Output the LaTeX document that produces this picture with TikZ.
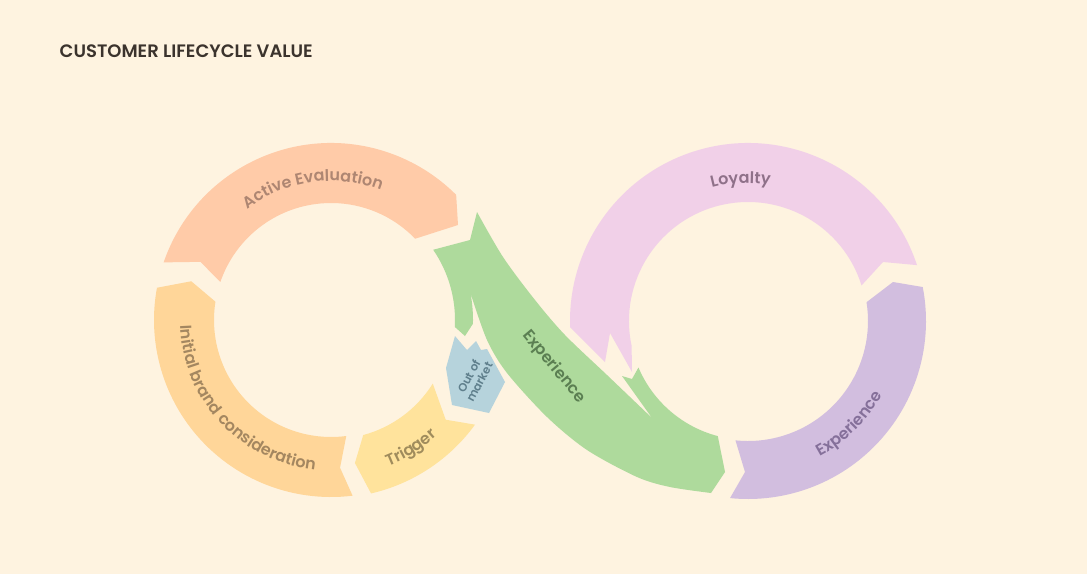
\documentclass[tikz,border=0pt]{standalone}
\usepackage{fontspec}
\setmainfont{Poppins}
\newfontfamily\sbf{Poppins SemiBold}
\usetikzlibrary{calc,decorations.text}
\definecolor{bg}{HTML}{FEF3E0}
\definecolor{peach}{HTML}{FFCBA8}
\definecolor{orng}{HTML}{FFD699}
\definecolor{trig}{HTML}{FFE39C}
\definecolor{blu}{HTML}{B6D3DC}
\definecolor{grn}{HTML}{AEDA9C}
\definecolor{pnk}{HTML}{F1D0E8}
\definecolor{purp}{HTML}{D2BEDF}
\definecolor{tpeach}{HTML}{AE8672}
\definecolor{torng}{HTML}{A48760}
\definecolor{ttrig}{HTML}{A08C5C}
\definecolor{tblu}{HTML}{5F7F8C}
\definecolor{tgrn}{HTML}{5B7F52}
\definecolor{tpnk}{HTML}{8F7189}
\definecolor{tpurp}{HTML}{85709A}
\definecolor{ttitle}{HTML}{3B332D}
\tikzset{
  lbl/.style={font=\fontsize{16}{16}\selectfont\sbf},
  arctext/.style={decorate, decoration={text along path, text align=center, text={#1}}}
}
\begin{document}
\begin{tikzpicture}[x=1pt,y=-1pt]
\useasboundingbox (0,0) rectangle (1087,574);
\fill[bg] (0,0) rectangle (1087,574);
\coordinate (L) at (331,320);
\coordinate (R) at (748,321);

\node[anchor=west, text=ttitle, font=\fontsize{18}{18}\selectfont\sbf, inner sep=0pt] (title) at (59.5,51.5) {CUSTOMER LIFECYCLE VALUE};

% Active Evaluation
\fill[peach] ($(L)+(199:177)$) arc[start angle=199,end angle=315,radius=177]
  -- (458,225) -- ($(L)+(316:117)$) arc[start angle=316,end angle=199,radius=117]
  -- ($(L)+(204:143)$) -- cycle;
% Initial brand consideration
\fill[orng] ($(L)+(83:177)$) arc[start angle=83,end angle=190.5,radius=177]
  -- ($(L)+(195.5:145)$) -- ($(L)+(189:117)$) arc[start angle=189,end angle=82.5,radius=117]
  -- ($(L)+(86.5:148)$) -- cycle;
% Trigger
\fill[trig] ($(L)+(77:178)$) arc[start angle=77,end angle=36,radius=178]
  -- ($(L)+(41:152)$) -- ($(L)+(32:120)$) arc[start angle=32,end angle=75,radius=118]
  -- ($(L)+(80.5:145)$) -- cycle;
% Out of market
\fill[blu] (455,336) -- (467,350) -- (476,341) -- (481,350) -- (487,349) -- (505,382)
  -- (489,413) -- (452,405) -- (446,368) -- cycle;
% Green experience band
\fill[grn] plot[smooth,tension=0.5] coordinates {(477,212) (503,257) (535,300) (565,335) (607,375) (652,418)}
  -- (622,376) -- (632,379) -- ($(R)+(157:119)$) arc[start angle=157,end angle=104.7,radius=119]
  -- (725,472) -- (711,493)
  -- plot[smooth,tension=0.5] coordinates {(711,493) (670,487) (637,477) (587,450) (547,417) (507,373) (487,340) (470.4,292.9)}
  arc[start angle=-11,end angle=1.5,radius=142]
  -- (465,336) -- ($(L)+(3.2:124)$) arc[start angle=3.2,end angle=-34.5,radius=124]
  -- (470,240) -- cycle;
% Loyalty
\fill[pnk] ($(R)+(-18.3:178)$) arc[start angle=-18.3,end angle=-182,radius=178]
  -- (605,362) -- (610,333) -- (632,372) -- ($(R)+(168:119)$) arc[start angle=168,end angle=342.6,radius=119]
  -- (883,262) -- cycle;
% Purple experience
\fill[purp] ($(R)+(-11:178)$) arc[start angle=-11,end angle=95.8,radius=178]
  -- (745,472) -- ($(R)+(96:120)$) arc[start angle=96,end angle=-9,radius=120]
  -- (893,282) -- cycle;

% labels
\path[arctext={|\fontsize{16}{16}\selectfont\sbf\color{tpeach}|Active Evaluation}]
  ($(L)+(192:139)$) arc[start angle=192,end angle=332,radius=139];
\path[arctext={|\fontsize{16}{16}\selectfont\sbf\color{torng}|Initial brand consideration}]
  ($(L)+(212:151)$) arc[start angle=212,end angle=62,radius=151];
\path[arctext={|\fontsize{16}{16}\selectfont\sbf\color{ttrig}|Trigger}]
  ($(L)+(90:157)$) arc[start angle=90,end angle=26,radius=157];
\path[arctext={|\fontsize{16}{16}\selectfont\sbf\color{tpnk}|Loyalty}]
  ($(R)+(237:138)$) arc[start angle=237,end angle=297,radius=138];
\path[arctext={|\fontsize{16}{16}\selectfont\sbf\color{tpurp}|Experience}]
  ($(R)+(80:153)$) arc[start angle=80,end angle=11,radius=153];
\node[lbl, text=tgrn, rotate=-50] (gexp) at (554,367) {Experience};
\node[text=tblu, rotate=62, align=center, font=\fontsize{11.5}{12}\selectfont\sbf, inner sep=0pt] (oom) at (474,379) {Out of\\market};
\end{tikzpicture}
\end{document}
